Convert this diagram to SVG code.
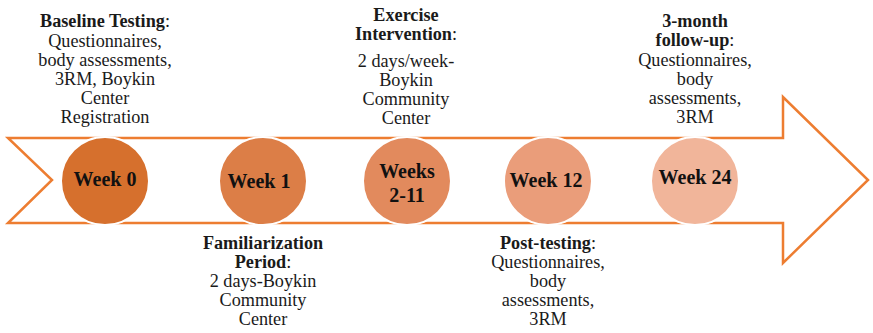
<svg xmlns="http://www.w3.org/2000/svg" width="873" height="333" viewBox="0 0 873 333">
  <style>
    .band { fill: #ffffff; stroke: #ED7D31; stroke-width: 2.5; stroke-linejoin: miter; }
    .dot { stroke: #ffffff; stroke-width: 2; }
    .wk { font-family: "Liberation Serif", "Times New Roman", serif; font-size: 20px; font-weight: bold; fill: #111111; text-anchor: middle; }
    .lbl { font-family: "Liberation Serif", "Times New Roman", serif; font-size: 18.2px; fill: #1a1a1a; text-anchor: middle; }
    .hd { font-weight: bold; }
  </style>

  <!-- timeline band -->
  <g id="connectors">
    <polygon class="band" points="8,138 783,138 783,97 868,180 783,263 783,223 8,223 52,180"/>
  </g>

  <g id="week0">
    <circle class="dot" cx="105" cy="181" r="44" fill="#D6702D"/>
    <text class="wk" x="105" y="186">Week 0</text>
    <text class="lbl" x="105" y="27"><tspan class="hd">Baseline Testing</tspan>:</text>
    <text class="lbl" x="105" y="47">Questionnaires,</text>
    <text class="lbl" x="105" y="66">body assessments,</text>
    <text class="lbl" x="105" y="85">3RM, Boykin</text>
    <text class="lbl" x="105" y="104">Center</text>
    <text class="lbl" x="105" y="123">Registration</text>
  </g>

  <g id="week1">
    <circle class="dot" cx="263" cy="181" r="44" fill="#DC7E47"/>
    <text class="wk" x="259" y="188">Week 1</text>
    <text class="lbl hd" x="263" y="249">Familiarization</text>
    <text class="lbl" x="263" y="268"><tspan class="hd">Period</tspan>:</text>
    <text class="lbl" x="263" y="287">2 days-Boykin</text>
    <text class="lbl" x="263" y="306">Community</text>
    <text class="lbl" x="263" y="325">Center</text>
  </g>

  <g id="week2-11">
    <circle class="dot" cx="407" cy="181" r="44" fill="#E28A5D"/>
    <text class="wk" x="407" y="178">Weeks</text>
    <text class="wk" x="407" y="202">2-11</text>
    <text class="lbl hd" x="406" y="21">Exercise</text>
    <text class="lbl" x="406" y="40"><tspan class="hd">Intervention</tspan>:</text>
    <text class="lbl" x="406" y="67">2 days/week-</text>
    <text class="lbl" x="406" y="86">Boykin</text>
    <text class="lbl" x="406" y="105">Community</text>
    <text class="lbl" x="406" y="124">Center</text>
  </g>

  <g id="week12">
    <circle class="dot" cx="548" cy="181" r="44" fill="#EA9D7A"/>
    <text class="wk" x="546" y="187">Week 12</text>
    <text class="lbl" x="548" y="249"><tspan class="hd">Post-testing</tspan>:</text>
    <text class="lbl" x="548" y="268">Questionnaires,</text>
    <text class="lbl" x="548" y="287">body</text>
    <text class="lbl" x="548" y="306">assessments,</text>
    <text class="lbl" x="548" y="325">3RM</text>
  </g>

  <g id="week24">
    <circle class="dot" cx="695" cy="181" r="44" fill="#F1B59A"/>
    <text class="wk" x="695" y="184">Week 24</text>
    <text class="lbl hd" x="695" y="27">3-month</text>
    <text class="lbl" x="695" y="46"><tspan class="hd">follow-up</tspan>:</text>
    <text class="lbl" x="695" y="66">Questionnaires,</text>
    <text class="lbl" x="695" y="85">body</text>
    <text class="lbl" x="695" y="104">assessments,</text>
    <text class="lbl" x="695" y="123">3RM</text>
  </g>
</svg>
